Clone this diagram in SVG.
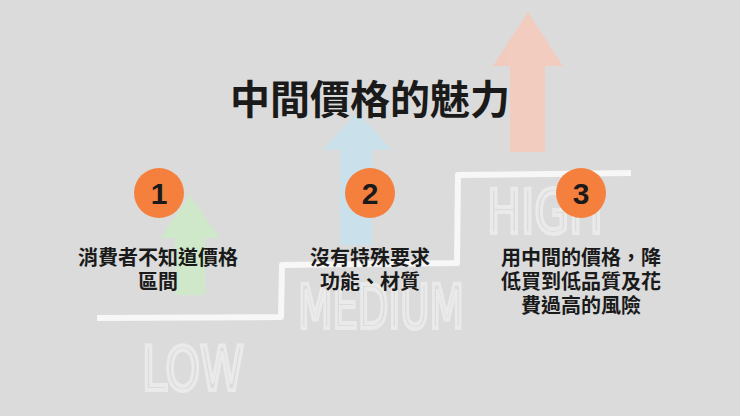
<svg xmlns="http://www.w3.org/2000/svg" width="740" height="416" viewBox="0 0 740 416">
<style>
.lvl{font-family:"DejaVu Sans","Liberation Sans",sans-serif;font-weight:normal;fill:none;stroke:#f0f0f0;stroke-width:4;opacity:.75}
.t{font-family:"Noto Sans CJK TC","Noto Sans CJK SC",sans-serif;font-weight:bold;fill:#1a1a1a;text-anchor:middle}
.num{font-family:"Liberation Sans",sans-serif;font-weight:bold;font-size:30px;fill:#1a1a1a;text-anchor:middle}
.c{fill:#f5803e}
</style>
<rect width="740" height="416" fill="#dbdbdb"/>
<g id="arrows" opacity="0.9">
<polygon points="190,195 220,238 205,238 205,295 175,295 175,238 160,238" fill="#cde9c6"/>
<polygon points="357,112 392,150 372,150 372,245 340,245 340,150 323,150" fill="#c9e1ec"/>
<polygon points="528,12 563,66 545,66 545,152 510,152 510,66 493,66" fill="#f4cbbb"/>
</g>
<g id="levels">
<text class="lvl" x="142" y="390" font-size="60" textLength="102" lengthAdjust="spacingAndGlyphs">LOW</text>
<text class="lvl" x="298" y="328" font-size="60" textLength="166" lengthAdjust="spacingAndGlyphs">MEDIUM</text>
<text class="lvl" x="487" y="233" font-size="60" textLength="116" lengthAdjust="spacingAndGlyphs">HIGH</text>
</g>
<g id="connectors">
<polyline points="97,318 281,317 282,265 457,263 458,175 631,173" fill="none" stroke="#f7f7f7" stroke-width="6" stroke-linejoin="round"/>
</g>
<text class="t" x="370" y="114" font-size="40">中間價格的魅力</text>
<g id="n1"><circle class="c" cx="159" cy="193" r="25"/><text class="num" x="159" y="204">1</text>
<text class="t" x="158" y="265" font-size="20">消費者不知道價格</text><text class="t" x="158" y="289" font-size="20">區間</text></g>
<g id="n2"><circle class="c" cx="370" cy="193" r="25"/><text class="num" x="370" y="204">2</text>
<text class="t" x="370" y="265" font-size="20">沒有特殊要求</text><text class="t" x="370" y="289" font-size="20">功能、材質</text></g>
<g id="n3"><circle class="c" cx="581" cy="193" r="25"/><text class="num" x="581" y="204">3</text>
<text class="t" x="581" y="265" font-size="20">用中間的價格，降</text><text class="t" x="581" y="289" font-size="20">低買到低品質及花</text><text class="t" x="581" y="313" font-size="20">費過高的風險</text></g>
</svg>
